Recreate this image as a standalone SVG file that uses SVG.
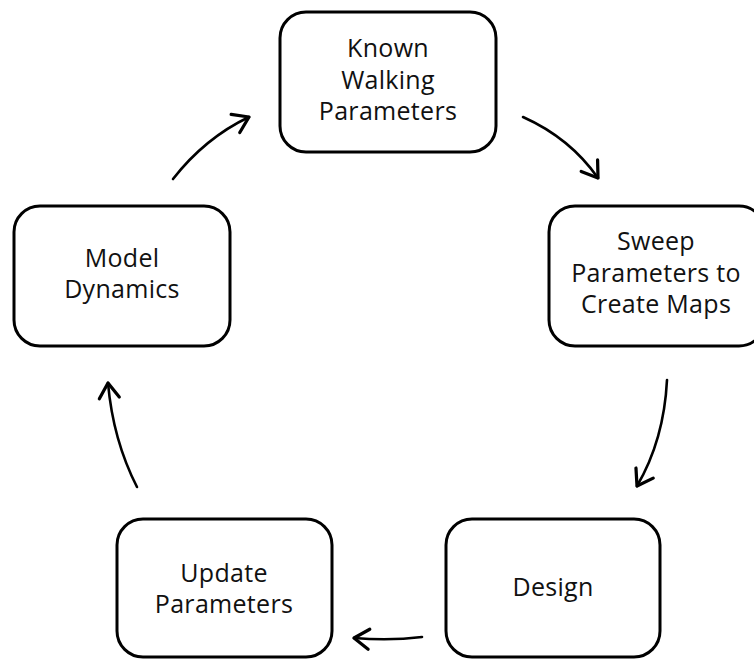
<svg xmlns="http://www.w3.org/2000/svg" width="754" height="659" viewBox="0 0 754 659">
<style>
.box{fill:#fff;stroke:#000;stroke-width:3}
.t{font-family:"Open Sans","Liberation Sans",sans-serif;font-size:25px;letter-spacing:0.3px;fill:#111;text-anchor:middle}
.c{fill:none;stroke:#000;stroke-width:2.6;stroke-linecap:round}
</style>
<defs>
<marker id="ah" markerUnits="userSpaceOnUse" markerWidth="30" markerHeight="30" refX="0" refY="0" viewBox="-16 -12 20 24" orient="auto">
<path d="M-12,-8 L0,0 L-12,8" fill="none" stroke="#000" stroke-width="2.6" stroke-linecap="round" stroke-linejoin="round"/>
</marker>
</defs>
<rect width="754" height="659" fill="#fff"/>
<g id="known">
<rect class="box" x="280" y="12" width="216" height="140" rx="26"/>
<text class="t" x="388" y="57">Known</text>
<text class="t" x="388" y="89">Walking</text>
<text class="t" x="388" y="120">Parameters</text>
</g>
<g id="sweep">
<rect class="box" x="549" y="206" width="216" height="140" rx="26"/>
<text class="t" x="656" y="250">Sweep</text>
<text class="t" x="656" y="282">Parameters to</text>
<text class="t" x="656" y="313">Create Maps</text>
</g>
<g id="design">
<rect class="box" x="446" y="519" width="214" height="138" rx="26"/>
<text class="t" x="553" y="596">Design</text>
</g>
<g id="update">
<rect class="box" x="117" y="519" width="215" height="138" rx="26"/>
<text class="t" x="224" y="582">Update</text>
<text class="t" x="224" y="613">Parameters</text>
</g>
<g id="model">
<rect class="box" x="14" y="206" width="216" height="140" rx="26"/>
<text class="t" x="122" y="267">Model</text>
<text class="t" x="122" y="298">Dynamics</text>
</g>
<g id="connectors">
<path class="c" d="M173,179 Q205,138 249,117" marker-end="url(#ah)"/>
<path class="c" d="M523,117 Q570,138 598,178" marker-end="url(#ah)"/>
<path class="c" d="M667,380 Q664,440 637,486" marker-end="url(#ah)"/>
<path class="c" d="M422,637 Q390,641 354,638" marker-end="url(#ah)"/>
<path class="c" d="M137,487 Q113,440 108,383" marker-end="url(#ah)"/>
</g>
</svg>
